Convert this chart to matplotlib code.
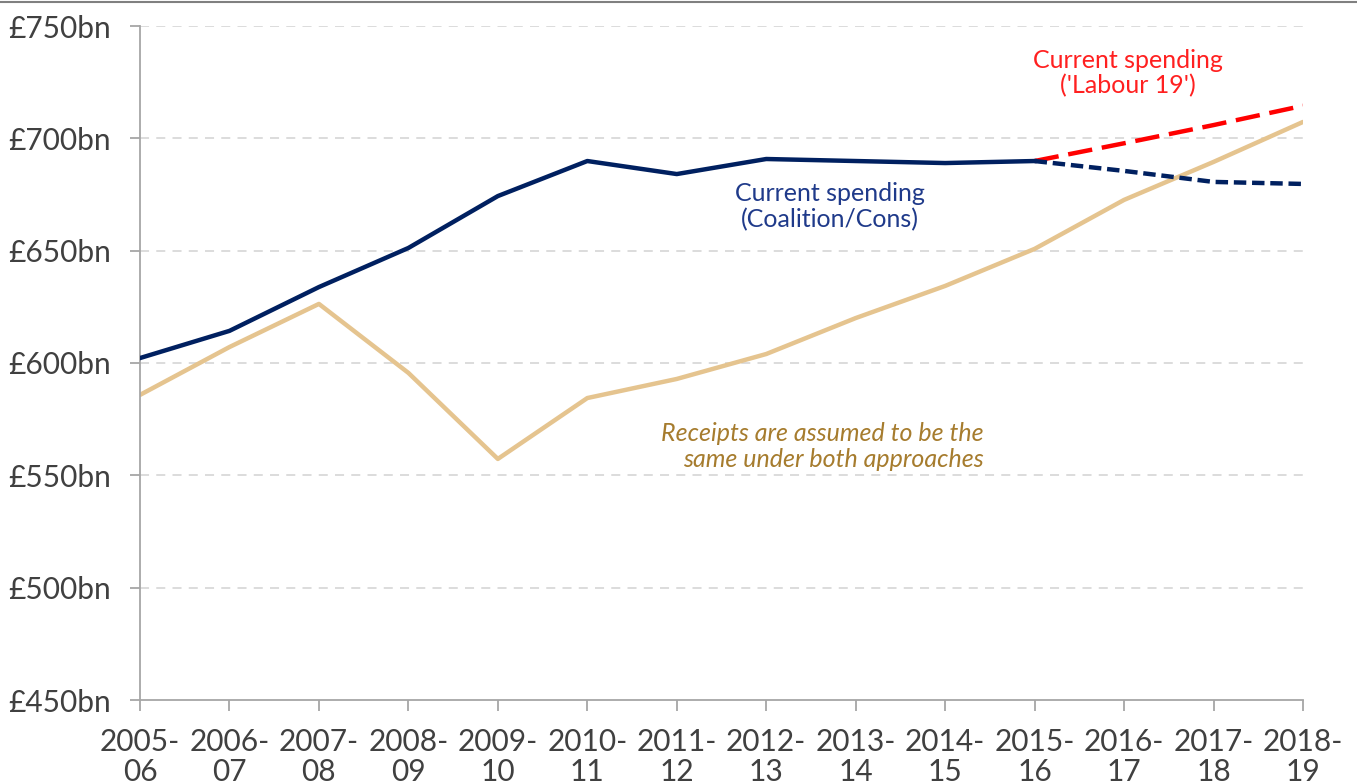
import numpy as np
import matplotlib.pyplot as plt

# years on the x axis
years = ["2005-\n06", "2006-\n07", "2007-\n08", "2008-\n09", "2009-\n10", "2010-\n11",
         "2011-\n12", "2012-\n13", "2013-\n14", "2014-\n15", "2015-\n16", "2016-\n17",
         "2017-\n18", "2018-\n19"]

# current spending, outturn (£bn)
spending = [602.2, 614.3, 633.8, 651.2, 674.3, 689.9, 684.1, 690.8, 689.9, 689.0, 689.9]
# projections from 2015-16
coalition = [689.9, 685.5, 680.6, 679.7]
labour = [689.9, 697.8, 705.9, 714.5]
# receipts
receipts = [585.8, 607.1, 626.3, 595.6, 557.3, 584.4, 592.9, 604.0, 620.0, 634.3,
            650.8, 672.6, 689.5, 707.3]

yticks = [450, 500, 550, 600, 650, 700, 750]

plt.rcParams['font.family'] = ['Lato', 'DejaVu Sans']

fig = plt.figure(figsize=(13.57, 7.84), dpi=100)
ax = fig.add_axes([140 / 1357, 1 - 700 / 784, (1303 - 140) / 1357, (700 - 26) / 784])

x = np.arange(len(years))
navy = '#002060'
ax.plot(x, receipts, color='#E5C48F', lw=3.2, solid_capstyle='round', zorder=2)
ax.plot(x[10:], labour, color='#FF0000', lw=3.2, dashes=(5.5, 2.2), zorder=3)
ax.plot(x[10:], coalition, color=navy, lw=3.2, dashes=(2.8, 1.3), zorder=3)
ax.plot(x[:11], spending, color=navy, lw=3.2, zorder=4)

ax.set_xlim(0, len(years) - 1)
ax.set_ylim(450, 750)
ax.set_yticks(yticks)
ax.set_yticklabels([f"£{v}bn" for v in yticks])
ax.set_xticks(x)
ax.set_xticklabels(years, linespacing=1.1)

for v in yticks[1:]:
    ax.axhline(v, color='#D9D9D9', lw=1.3, dashes=(5, 4), zorder=1)

for s in ['top', 'right']:
    ax.spines[s].set_visible(False)
for s in ['left', 'bottom']:
    ax.spines[s].set_color('#A6A6A6')
    ax.spines[s].set_linewidth(1.3)
ax.tick_params(axis='y', colors='#A6A6A6', length=7, width=1.3, labelsize=21.5,
               labelcolor='#404040', pad=14)
ax.tick_params(axis='x', colors='#A6A6A6', length=8, width=1.3, labelsize=21.5,
               labelcolor='#404040', pad=12)

ax.text(7.71, 669.4, "Current spending\n(Coalition/Cons)", color='#1F3A8A', fontsize=18,
        ha='center', va='center', linespacing=1.15)
ax.text(11.04, 729, "Current spending\n('Labour 19')", color='#FF2020', fontsize=18,
        ha='center', va='center', linespacing=1.15)
ax.text(9.43, 563, "Receipts are assumed to be the\nsame under both approaches",
        color='#A67C2E', fontsize=18, ha='right', va='center', style='italic',
        linespacing=1.15)

fig.add_artist(plt.Line2D([0, 1], [1 - 1.5 / 784, 1 - 1.5 / 784], color='#808080', lw=1.5))

fig.savefig('out.png', dpi=100)
